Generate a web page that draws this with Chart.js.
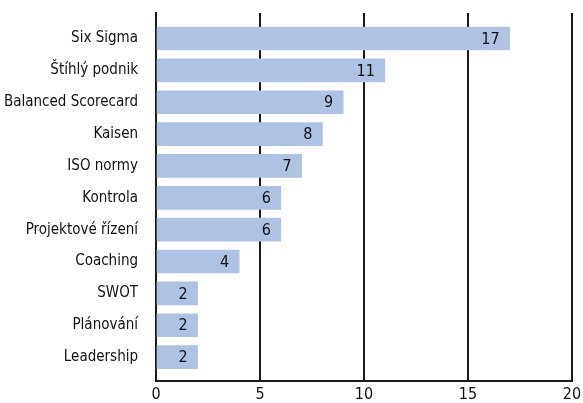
<!DOCTYPE html>
<html><head><meta charset="utf-8">
<script src="https://cdn.jsdelivr.net/npm/chart.js@4/dist/chart.umd.min.js"></script>
<style>html,body{margin:0;padding:0;background:#fff}#wrap{width:583px;height:403px}</style>
</head><body><div id="wrap"><canvas id="c" width="583" height="403"></canvas></div>
<script>
const categories = ["Six Sigma","Štíhlý podnik","Balanced Scorecard","Kaisen","ISO normy","Kontrola","Projektové řízení","Coaching","SWOT","Plánování","Leadership"];
const values = [17,11,9,8,7,6,6,4,2,2,2];
const xTicks = [0,5,10,15,20];

const FONT = "'Liberation Sans Narrow','DejaVu Sans Condensed','Roboto Condensed',sans-serif";

const points = values.map((v,i)=>({x:v,y:i}));

const labelPlugin = {
  id:'valueLabels',
  afterDatasetsDraw(chart){
    const ctx = chart.ctx;
    const meta = chart.getDatasetMeta(0);
    ctx.save();
    ctx.font = "16px " + FONT;
    ctx.fillStyle = "#111";
    ctx.textAlign = "right";
    ctx.textBaseline = "middle";
    meta.data.forEach((el,i)=>{
      ctx.fillText(String(values[i]), el.x - 10, el.y + 1);
    });
    ctx.restore();
  }
};

const chart = new Chart(document.getElementById('c'), {
  type:'bar',
  data:{datasets:[{data:points, backgroundColor:'#afc2e1', borderWidth:0, barThickness:23}]},
  plugins:[labelPlugin],
  options:{
    indexAxis:'y',
    responsive:false,
    animation:false,
    layout:{padding:{top:13,right:11,left:0,bottom:0}},
    plugins:{legend:{display:false},tooltip:{enabled:false}},
    scales:{
      x:{
        type:'linear', min:0, max:20,
        afterBuildTicks(s){ s.ticks = xTicks.map(v=>({value:v})); },
        grid:{color:'#1a1a1a', lineWidth:2, drawTicks:false},
        border:{color:'#1a1a1a', width:2},
        ticks:{color:'#111', font:{family:FONT,size:16}, padding:4},
        afterFit(s){ s.height = 22; s.paddingLeft = 0; s.paddingRight = 0; }
      },
      y:{
        type:'linear', reverse:true, min:-0.8, max:10.75, offset:false,
        afterBuildTicks(s){ s.ticks = categories.map((_,i)=>({value:i})); },
        grid:{display:false, drawTicks:false},
        border:{color:'#1a1a1a', width:2},
        ticks:{color:'#111', font:{family:FONT,size:15}, padding:18,
          callback(v){ return categories[v]; }},
        afterFit(s){ s.width = 156; s.paddingTop = 0; s.paddingBottom = 0; }
      }
    }
  }
});
</script></body></html>
